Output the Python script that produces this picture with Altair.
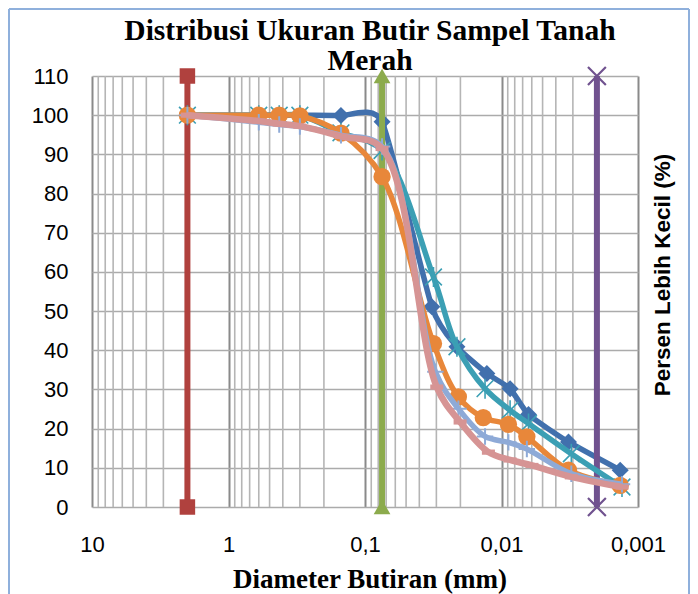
import altair as alt
import pandas as pd

# ---- data (diameter in mm, percent finer) ----
d_s1 = [2.0, 0.6, 0.425, 0.3, 0.15, 0.075, 0.0324, 0.0212, 0.0128, 0.00865, 0.00634, 0.00323, 0.00135]
p_s1 = [100, 100, 100, 100, 99.9, 98.3, 51.1, 40.9, 34.1, 30.2, 23.6, 16.6, 9.4]

d_s5 = [2.0, 0.6, 0.425, 0.3, 0.15, 0.075, 0.0315, 0.0212, 0.0132, 0.00865, 0.00634, 0.00308, 0.00131]
p_s5 = [100, 100, 100, 100, 95.5, 91.0, 58.7, 40.9, 30.2, 24.7, 21.3, 13.6, 5.1]

d_s6 = [2.0, 0.6, 0.425, 0.3, 0.15, 0.075, 0.0315, 0.0207, 0.0136, 0.0089, 0.00652, 0.00323, 0.00135]
p_s6 = [100, 100, 100, 99.8, 95.4, 84.3, 41.7, 28.1, 22.8, 21.1, 17.9, 9.4, 5.5]

d_s7 = [2.0, 0.6, 0.425, 0.3, 0.15, 0.075, 0.0305, 0.0207, 0.0132, 0.0089, 0.00652, 0.00308, 0.00131]
p_s7 = [100, 98.2, 97.6, 97.1, 94.9, 92.0, 34.5, 25.1, 18.0, 16.5, 14.8, 8.5, 5.8]

d_s8 = [2.0, 0.6, 0.425, 0.3, 0.15, 0.075, 0.0298, 0.0201, 0.01247, 0.00865, 0.00598, 0.00308, 0.00131]
p_s8 = [100, 98.5, 97.8, 97.2, 94.6, 91.5, 30.6, 21.7, 14.0, 12.0, 10.6, 7.7, 5.1]

# boundary lines (gravel/sand, sand/silt, silt/clay)
bound_d = [2.0, 0.075, 0.002]
bound_p = [0, 110]

x_labels = [10, 1, 0.1, 0.01, 0.001]
y_ticks = list(range(0, 111, 10))
minor_ticks = [k * 10.0 ** e for e in (-3, -2, -1, 0) for k in range(2, 10)]

title_lines = ["Distribusi Ukuran Butir Sampel Tanah", "Merah"]
x_title = "Diameter Butiran (mm)"
y_title = "Persen Lebih Kecil (%)"

# ---- styling ----
W, H = 546, 431
x_scale = alt.Scale(type="log", domain=[0.001, 10], reverse=True)
y_scale = alt.Scale(domain=[0, 110])
x_axis = alt.Axis(values=x_labels, labelExpr="replace(toString(datum.value), '.', ',')",
                  grid=True, gridColor="#8a8a8a", gridWidth=2, ticks=False, domain=False,
                  labelFont="Liberation Sans", labelFontSize=22, labelColor="black",
                  labelFlush=False, labelPadding=27, title=None)
y_axis = alt.Axis(values=y_ticks, grid=True, gridColor="#ababab", gridWidth=1.6, ticks=False,
                  domain=False, labelFont="Liberation Sans", labelFontSize=22,
                  labelColor="black", labelPadding=24, title=None)

X = lambda f: alt.X(f, type="quantitative", scale=x_scale, axis=x_axis)
Y = lambda f: alt.Y(f, type="quantitative", scale=y_scale, axis=y_axis)

layers = []

# minor vertical grid
layers.append(
    alt.Chart(pd.DataFrame({"d": minor_ticks}))
    .mark_rule(color="#b5b5b5", strokeWidth=1.6)
    .encode(x=X("d"))
)

def series_layers(ds, ps, color, shape, size, filled=True, stroke_w=1, line_w=5.5,
                  interp="catmull-rom", tension=None):
    df = pd.DataFrame({"d": ds, "p": ps, "i": range(len(ds))})
    base = alt.Chart(df)
    kw = dict(color=color, strokeWidth=line_w, interpolate=interp)
    if tension is not None:
        kw["tension"] = tension
    line = base.mark_line(**kw).encode(x=X("d"), y=Y("p"), order="i:O")
    if filled:
        pts = base.mark_point(shape=shape, size=size, filled=True, color=color, opacity=1)
    else:
        pts = base.mark_point(shape=shape, size=size, filled=False, color=color,
                              strokeWidth=stroke_w, opacity=1)
    pts = pts.encode(x=X("d"), y=Y("p"))
    return [line, pts]

def boundary_layers(dval, color, shape, size, filled=True):
    df = pd.DataFrame({"d": [dval, dval], "p": bound_p})
    base = alt.Chart(df)
    line = base.mark_line(color=color, strokeWidth=6).encode(x=X("d"), y=Y("p"))
    if filled:
        pts = base.mark_point(shape=shape, size=size, filled=True, color=color, opacity=1)
    else:
        pts = base.mark_point(shape=shape, size=size, filled=False, color=color,
                              strokeWidth=2.2, opacity=1)
    return [line, pts.encode(x=X("d"), y=Y("p"))]

XSHAPE = "M-1,-1L1,1M-1,1L1,-1"
STAR = "M-1,-1L1,1M-1,1L1,-1M0,-1.2L0,1.2"
PLUS = "M-1,0L1,0M0,-1L0,1"
DASH = "M-1,-0.4L1,-0.4L1,0.4L-1,0.4Z"

layers += series_layers(d_s1, p_s1, "#4170ad", "diamond", 290, interp="cardinal", tension=0.45)
layers += boundary_layers(bound_d[0], "#b0413e", "square", 240)
layers += boundary_layers(bound_d[1], "#8cab4d", "triangle-up", 280)
layers += boundary_layers(bound_d[2], "#70528f", XSHAPE, 320, filled=False)
layers += series_layers(d_s5, p_s5, "#3b9fb4", STAR, 280, filled=False, stroke_w=1.6)
layers += series_layers(d_s6, p_s6, "#e8873a", "circle", 300)
layers += series_layers(d_s7, p_s7, "#8eaad7", PLUS, 270, filled=False, stroke_w=2)
layers += series_layers(d_s8, p_s8, "#d69494", DASH, 170, line_w=6.5)

# texts (titles) and outer frame
one = pd.DataFrame({"k": [0]})
layers.append(alt.Chart(one).mark_text(font="Liberation Serif", fontWeight="bold", fontSize=29.5,
                                       align="center", baseline="alphabetic", color="black")
              .encode(x=alt.value(278), y=alt.value(-36), text=alt.value(title_lines[0])))
layers.append(alt.Chart(one).mark_text(font="Liberation Serif", fontWeight="bold", fontSize=29.5,
                                       align="center", baseline="alphabetic", color="black")
              .encode(x=alt.value(278), y=alt.value(-6), text=alt.value(title_lines[1])))
layers.append(alt.Chart(one).mark_text(font="Liberation Serif", fontWeight="bold", fontSize=27,
                                       align="center", baseline="alphabetic", color="black")
              .encode(x=alt.value(278), y=alt.value(512), text=alt.value(x_title)))
layers.append(alt.Chart(one).mark_text(font="Liberation Sans", fontWeight="bold", fontSize=22.5,
                                       align="center", baseline="middle", angle=270, color="black")
              .encode(x=alt.value(571), y=alt.value(199), text=alt.value(y_title)))
frame = alt.Chart(one).mark_rule(color="#8fb0dc", strokeWidth=2)
layers.append(frame.encode(x=alt.value(-83), y=alt.value(-67), y2=alt.value(520)))
layers.append(frame.encode(x=alt.value(597), y=alt.value(-67), y2=alt.value(520)))
layers.append(frame.encode(x=alt.value(-83), x2=alt.value(597), y=alt.value(-67)))

chart = alt.layer(*layers).properties(
    width=W, height=H,
    autosize=alt.AutoSizeParams(type="none"),
    padding={"left": 84, "top": 68, "right": 52, "bottom": 87},
    background="white",
).configure_view(stroke=None)

chart.save("out.html", embed_options={"renderer": "svg", "actions": False})
